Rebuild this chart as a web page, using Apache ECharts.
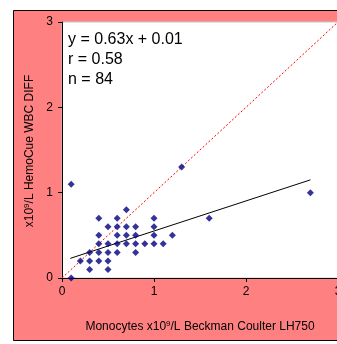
<!DOCTYPE html>
<html>
<head>
<meta charset="utf-8">
<script src="https://cdn.jsdelivr.net/npm/echarts@6/dist/echarts.min.js"></script>
<style>
  html, body { margin: 0; padding: 0; background: #fff; }
  #chart { width: 337px; height: 344px; }
</style>
</head>
<body>
<div id="chart"></div>
<script>
// monocyte pairs: [Beckman Coulter LH750, HemoCue WBC DIFF]
const points = [
  [0.1, 0], [0.1, 1.1],
  [0.2, 0.2],
  [0.3, 0.1], [0.3, 0.2], [0.3, 0.3],
  [0.4, 0.2], [0.4, 0.3], [0.4, 0.4], [0.4, 0.5], [0.4, 0.7],
  [0.5, 0.1], [0.5, 0.2], [0.5, 0.3], [0.5, 0.4], [0.5, 0.6],
  [0.6, 0.3], [0.6, 0.4], [0.6, 0.5], [0.6, 0.6], [0.6, 0.7],
  [0.7, 0.4], [0.7, 0.5], [0.7, 0.6], [0.7, 0.8],
  [0.8, 0.3], [0.8, 0.4], [0.8, 0.5], [0.8, 0.6],
  [0.9, 0.4],
  [1.0, 0.4], [1.0, 0.5], [1.0, 0.6], [1.0, 0.7],
  [1.1, 0.4], [1.2, 0.5], [1.3, 1.3], [1.6, 0.7], [2.7, 1.0]
];
const identityLine = [[0, 0], [3, 3]];
const fitLine = [[0.09, 0.23], [2.7, 1.15]];
const statLines = ['y = 0.63x + 0.01', 'r = 0.58', 'n = 84'];
const yTitle = 'x10{s|9}/L HemoCue WBC DIFF';

const chart = echarts.init(document.getElementById('chart'));
const font = 'Liberation Sans, Arial, sans-serif';
const supStyle = { fontSize: 8, fontFamily: font, color: '#000', fill: '#000', padding: [0, 0, 6, 0] };

chart.setOption({
  animation: false,
  backgroundColor: '#fff',
  grid: {
    left: 62, top: 22, width: 276, height: 256,
    outerBoundsMode: 'none', containLabel: false,
    show: true, backgroundColor: '#fff', borderColor: '#c8c8c8', borderWidth: 1
  },
  graphic: [
    {
      type: 'rect', z: -10, silent: true,
      shape: { x: 13.5, y: 10.5, width: 340, height: 330 },
      style: { fill: '#ff8080', stroke: '#000', lineWidth: 1 }
    },
    {
      type: 'text', left: 68, top: 30, z: 10,
      style: {
        text: statLines.join('\n'), font: '16px ' + font,
        lineHeight: 20, fill: '#000'
      }
    },
    {
      type: 'text', x: 30, y: 151, rotation: Math.PI / 2, z: 10,
      style: {
        text: yTitle, font: '12px ' + font, fill: '#000',
        align: 'center', verticalAlign: 'middle',
        rich: { s: supStyle }
      }
    }
  ],
  xAxis: {
    type: 'value', min: 0, max: 3, interval: 1,
    name: 'Monocytes x10{s|9}/L Beckman Coulter LH750',
    nameLocation: 'middle', nameGap: 42,
    nameTextStyle: {
      color: '#000', fontFamily: font, fontSize: 12,
      rich: { s: supStyle }
    },
    axisLine: { show: true, onZero: false, lineStyle: { color: '#000', width: 1 } },
    axisTick: { show: true, inside: false, length: 4, lineStyle: { color: '#000' } },
    axisLabel: { color: '#000', fontFamily: font, fontSize: 12, margin: 8 },
    splitLine: { show: false }
  },
  yAxis: {
    type: 'value', min: 0, max: 3, interval: 1,
    axisLine: { show: true, onZero: false, lineStyle: { color: '#000', width: 1 } },
    axisTick: { show: true, inside: false, length: 4, lineStyle: { color: '#000' } },
    axisLabel: { color: '#000', fontFamily: font, fontSize: 12, margin: 9 },
    splitLine: { show: false }
  },
  series: [
    {
      type: 'line', data: identityLine, symbol: 'none', silent: true,
      lineStyle: { color: '#ff0000', width: 1, type: [2, 2] }, z: 2
    },
    {
      type: 'line', data: fitLine, symbol: 'none', silent: true,
      lineStyle: { color: '#000', width: 1 }, z: 3
    },
    {
      type: 'scatter', data: points, symbol: 'diamond', symbolSize: 7,
      itemStyle: { color: '#000080' }, z: 4
    }
  ]
});
</script>
</body>
</html>
